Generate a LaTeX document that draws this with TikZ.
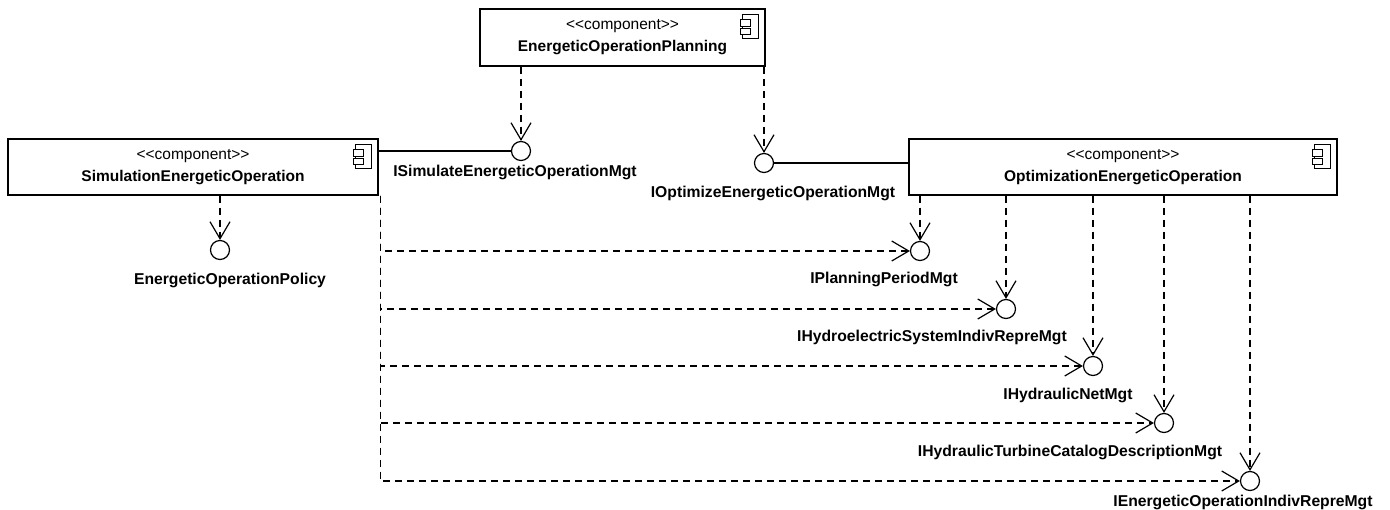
\documentclass[tikz,border=0pt]{standalone}
\usepackage{fontspec}
\setmainfont{Liberation Sans}
\usetikzlibrary{arrows.meta}
\newcommand{\stereo}{\textless\kern0pt\textless component\textgreater\kern0pt\textgreater}
\begin{document}
\begin{tikzpicture}[x=1pt,y=-1pt,
  comp/.style={draw, line width=1.4pt, inner sep=0pt, align=center,
    font=\fontsize{15.5}{22}\selectfont},
  iface/.style={circle, draw, line width=1.2pt, minimum size=19pt, inner sep=0pt, fill=white},
  lbl/.style={font=\fontsize{15.7}{18}\selectfont\bfseries, inner sep=0pt},
  assoc/.style={line width=1.2pt},
  dep/.style={line width=1.1pt, dash pattern=on 7pt off 5pt,
    -{Straight Barb[length=17pt,width=20pt,line width=1.2pt]}},
  compicon/.pic={
    \draw[line width=1pt, fill=white] (-23,6) rectangle (-7,30);
    \draw[line width=1pt, fill=white] (-25,11) rectangle (-15,18);
    \draw[line width=1pt, fill=white] (-25,20) rectangle (-15,26);
  }]
\useasboundingbox (0,0) rectangle (1390,510);
\fill[white] (0,0) rectangle (1390,510);

% components
\node[comp, minimum width=285pt, minimum height=57pt] (plan) at (622.5,37.5)
  {\stereo\\ \textbf{EnergeticOperationPlanning}};
\node[comp, minimum width=370pt, minimum height=56pt] (sim) at (193,167)
  {\stereo\\ \textbf{SimulationEnergeticOperation}};
\node[comp, minimum width=428pt, minimum height=56pt] (opt) at (1123,167)
  {\stereo\\ \textbf{OptimizationEnergeticOperation}};
\pic at (plan.north east) {compicon};
\pic at (sim.north east) {compicon};
\pic at (opt.north east) {compicon};

% interfaces
\node[iface] (isim) at (521,151) {};
\node[iface] (iopt) at (764,163) {};
\node[iface] (ipol) at (220,250) {};
\node[iface] (ipp)  at (920,251) {};
\node[iface] (ihs)  at (1006,309) {};
\node[iface] (ihn)  at (1093,366) {};
\node[iface] (iht)  at (1164,423) {};
\node[iface] (ieo)  at (1250,481) {};

% labels
\node[lbl] (lsim) at (515,172) {ISimulateEnergeticOperationMgt};
\node[lbl] (lopt) at (773,193) {IOptimizeEnergeticOperationMgt};
\node[lbl] (lpol) at (230,280) {EnergeticOperationPolicy};
\node[lbl] (lpp)  at (884,279) {IPlanningPeriodMgt};
\node[lbl] (lhs)  at (932,337) {IHydroelectricSystemIndivRepreMgt};
\node[lbl] (lhn)  at (1068,395) {IHydraulicNetMgt};
\node[lbl] (lht)  at (1070,452) {IHydraulicTurbineCatalogDescriptionMgt};
\node[lbl] (leo)  at (1243,502) {IEnergeticOperationIndivRepreMgt};

% provided interfaces
\draw[assoc] (sim.east |- isim) -- (isim.west);
\draw[assoc] (iopt.east) -- (opt.west |- iopt);

% dependencies from planning
\draw[dep] (plan.south -| isim) -- (isim.north);
\draw[dep] (plan.south -| iopt) -- (iopt.north);

% simulation -> policy
\draw[dep] (sim.south -| ipol) -- (ipol.north);

% optimization -> interfaces
\foreach \i in {ipp,ihs,ihn,iht,ieo}
  \draw[dep] (opt.south -| \i) -- (\i.north);

% simulation -> interfaces
\coordinate (simcorner) at ([xshift=2pt]sim.south east);
\foreach \i in {ipp,ihs,ihn,iht,ieo}
  \draw[dep] (simcorner) |- (\i.west);
\end{tikzpicture}
\end{document}
